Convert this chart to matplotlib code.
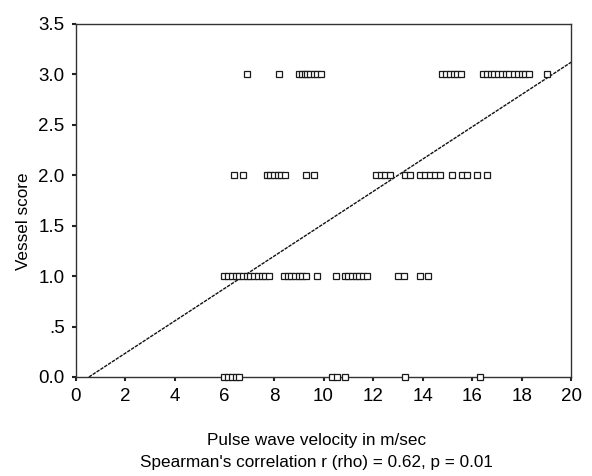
import matplotlib
matplotlib.use("Agg")
import matplotlib.pyplot as plt
from matplotlib.ticker import FixedLocator, FixedFormatter

plt.rcParams['font.family'] = ['Liberation Sans', 'DejaVu Sans']

# pulse wave velocity (m/sec) for each vessel score
pwv_score0 = [6.0, 6.15, 6.3, 6.45, 6.6, 10.35, 10.55, 10.85, 13.3, 16.3]
pwv_score1 = [6.0, 6.15, 6.3, 6.45, 6.6, 6.75, 6.9, 7.05, 7.2, 7.35, 7.5, 7.65, 7.8,
              8.4, 8.55, 8.7, 8.85, 9.0, 9.15, 9.3, 9.75, 10.5, 10.85, 11.0, 11.15,
              11.3, 11.45, 11.6, 11.75, 13.0, 13.25, 13.9, 14.2]
pwv_score2 = [6.4, 6.75, 7.7, 7.85, 8.0, 8.15, 8.3, 8.45, 9.3, 9.6,
              12.1, 12.3, 12.5, 12.7, 13.3, 13.5, 13.9, 14.1, 14.3, 14.5, 14.7,
              15.2, 15.6, 15.8, 16.2, 16.6]
pwv_score3 = [6.9, 8.2, 9.0, 9.15, 9.25, 9.35, 9.45, 9.6, 9.75, 9.9,
              14.8, 14.95, 15.1, 15.25, 15.4, 15.55, 16.45, 16.6, 16.75, 16.9,
              17.05, 17.2, 17.35, 17.5, 17.7, 17.85, 18.0, 18.15, 18.3, 19.0]
scores = [0, 1, 2, 3]

# fitted line endpoints
fit_x = [0.53, 20.0]
fit_y = [0.0, 3.12]

x_ticks = [0, 2, 4, 6, 8, 10, 12, 14, 16, 18, 20]
y_ticks = [0.0, 0.5, 1.0, 1.5, 2.0, 2.5, 3.0, 3.5]
y_labels = ['0.0', '.5', '1.0', '1.5', '2.0', '2.5', '3.0', '3.5']

fig = plt.figure(figsize=(5.92, 4.76), dpi=100)
ax = fig.add_axes([0.128, 0.208, 0.837, 0.742])

for s, xs in zip(scores, [pwv_score0, pwv_score1, pwv_score2, pwv_score3]):
    ax.plot(xs, [s] * len(xs), linestyle='none', marker='s', markersize=4.5,
            markerfacecolor='white', markeredgecolor='#1a1a1a',
            markeredgewidth=0.9, clip_on=False, zorder=3)

ax.plot(fit_x, fit_y, color='#111111', linewidth=1.0, linestyle=(0, (2.5, 0.8)), zorder=2)

ax.set_xlim(0, 20)
ax.set_ylim(0, 3.5)
ax.xaxis.set_major_locator(FixedLocator(x_ticks))
ax.yaxis.set_major_locator(FixedLocator(y_ticks))
ax.yaxis.set_major_formatter(FixedFormatter(y_labels))
ax.tick_params(direction='out', length=3, width=1.5, color='#222222',
               labelsize=13.5, pad=5)
for sp in ax.spines.values():
    sp.set_color('#333333')
    sp.set_linewidth(1.0)

fig.text(0.534, 0.075, 'Pulse wave velocity in m/sec', ha='center', va='center', fontsize=12.3)
fig.text(0.534, 0.028, "Spearman's correlation r (rho) = 0.62, p = 0.01",
         ha='center', va='center', fontsize=12.3)
fig.text(0.04, 0.535, 'Vessel score', rotation=90, ha='center', va='center', fontsize=12.3)

fig.savefig('out.png', dpi=100)
